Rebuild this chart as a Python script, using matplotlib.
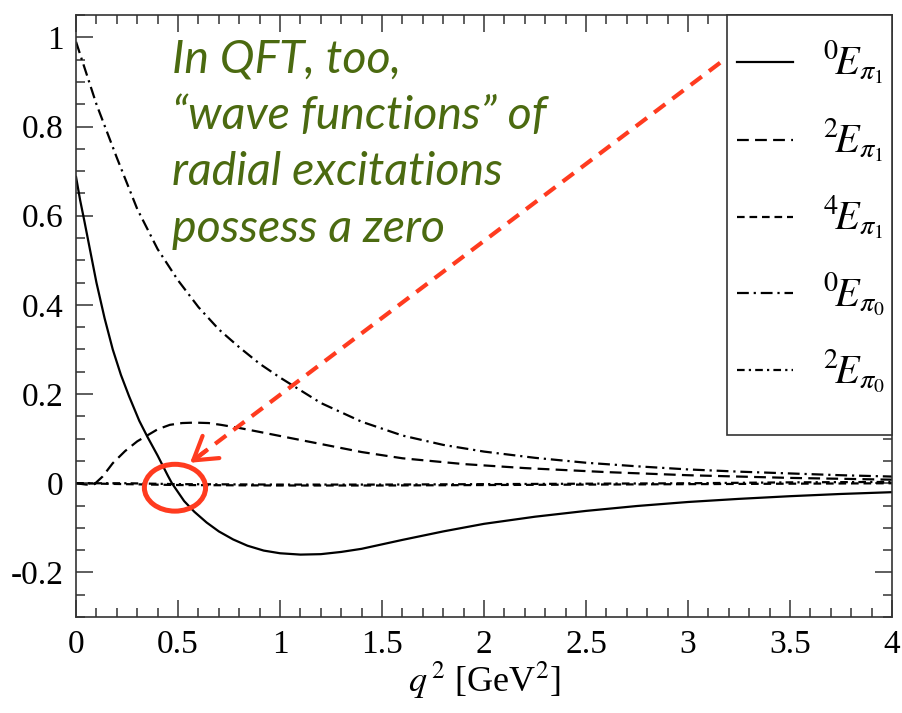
import matplotlib
matplotlib.use("Agg")
import matplotlib.pyplot as plt
from matplotlib.patches import Ellipse, Rectangle
from matplotlib.lines import Line2D
from matplotlib.ticker import MultipleLocator

plt.rcParams['font.family'] = ['Liberation Serif', 'DejaVu Serif']
plt.rcParams['mathtext.fontset'] = 'stix'
plt.rcParams['axes.unicode_minus'] = False
plt.rcParams['lines.scale_dashes'] = False

# ---- curves: q^2 [GeV^2] and form-factor values ----
q_e0_pi1 = [0, 0.02, 0.04, 0.07, 0.1, 0.14, 0.18, 0.22, 0.26, 0.31, 0.35, 0.4, 0.45,
            0.47, 0.53, 0.58, 0.64, 0.7, 0.77, 0.84, 0.92, 1.0, 1.1, 1.2, 1.3, 1.4,
            1.5, 1.6, 1.8, 2.0, 2.25, 2.5, 2.75, 3.0, 3.25, 3.5, 3.75, 4.0]
e0_pi1 = [0.687, 0.635, 0.590, 0.52, 0.45, 0.37, 0.30, 0.243, 0.195, 0.140, 0.104,
          0.062, 0.017, 0.0, -0.040, -0.064, -0.088, -0.108, -0.126, -0.140, -0.151,
          -0.157, -0.160, -0.159, -0.154, -0.147, -0.137, -0.127, -0.108, -0.091,
          -0.075, -0.062, -0.051, -0.042, -0.035, -0.029, -0.024, -0.020]

q_e2_pi1 = [0, 0.05, 0.09, 0.13, 0.18, 0.24, 0.3, 0.4, 0.46, 0.52, 0.58, 0.65, 0.71,
            0.8, 0.89, 1.0, 1.1, 1.2, 1.3, 1.4, 1.6, 1.9, 2.2, 2.6, 3.0, 3.5, 4.0]
e2_pi1 = [0.0, -0.003, -0.002, 0.015, 0.045, 0.072, 0.094, 0.121, 0.131, 0.135, 0.136,
          0.135, 0.131, 0.124, 0.116, 0.106, 0.097, 0.088, 0.079, 0.070, 0.056, 0.043,
          0.034, 0.025, 0.018, 0.012, 0.008]

q_e4_pi1 = [0, 0.25, 0.5, 1.0, 1.5, 2.0, 2.5, 3.0, 3.5, 4.0]
e4_pi1 = [0.0, -0.002, -0.004, -0.005, -0.005, -0.004, -0.003, -0.002, -0.001, 0.0]

q_e0_pi0 = [0, 0.1, 0.2, 0.3, 0.4, 0.5, 0.6, 0.7, 0.8, 0.9, 1.0, 1.2, 1.4, 1.6, 1.8,
            2.0, 2.25, 2.5, 2.75, 3.0, 3.25, 3.5, 3.75, 4.0]
e0_pi0 = [0.99, 0.85, 0.73, 0.615, 0.525, 0.455, 0.395, 0.345, 0.305, 0.268, 0.237,
          0.180, 0.138, 0.107, 0.086, 0.071, 0.057, 0.046, 0.038, 0.031, 0.026,
          0.022, 0.018, 0.015]

q_e2_pi0 = [0, 0.25, 0.5, 1.0, 1.5, 2.0, 2.5, 3.0, 3.5, 4.0]
e2_pi0 = [0.0, 0.0, -0.002, -0.003, -0.003, -0.002, -0.001, 0.0, 0.002, 0.003]

series_labels = [r'${}^{\mathit{0}}\!E_{\pi_{\mathit{1}}}$',
                 r'${}^{\mathit{2}}\!E_{\pi_{\mathit{1}}}$',
                 r'${}^{\mathit{4}}\!E_{\pi_{\mathit{1}}}$',
                 r'${}^{\mathit{0}}\!E_{\pi_{\mathit{0}}}$',
                 r'${}^{\mathit{2}}\!E_{\pi_{\mathit{0}}}$']

x_ticks = [0, 0.5, 1, 1.5, 2, 2.5, 3, 3.5, 4]
x_tick_labels = ['0', '0.5', '1', '1.5', '2', '2.5', '3', '3.5', '4']
y_ticks = [-0.2, 0, 0.2, 0.4, 0.6, 0.8, 1.0]
y_tick_labels = ['-0.2', '0', '0.2', '0.4', '0.6', '0.8', '1']

note_lines = ['In QFT, too,', '\u201cwave functions\u201d of',
              'radial excitations', 'possess a zero']

# ---- figure ----
fig = plt.figure(figsize=(9.02, 7.13), dpi=100)
ax = fig.add_axes([0.0843, 0.1346, 0.9047, 0.8443])

lw = 1.6
styles = [
    dict(linestyle='-'),
    dict(dashes=(8.5, 4.5)),
    dict(dashes=(5.5, 3.5)),
    dict(dashes=(8.5, 3.5, 1.6, 3.5)),
    dict(dashes=(5.5, 3.0, 1.6, 3.0)),
]
data = [(q_e0_pi1, e0_pi1), (q_e2_pi1, e2_pi1), (q_e4_pi1, e4_pi1),
        (q_e0_pi0, e0_pi0), (q_e2_pi0, e2_pi0)]
lines = []
for (qq, vv), st, lab in zip(data, styles, series_labels):
    ln, = ax.plot(qq, vv, color='black', lw=lw, label=lab,
                  dash_capstyle='butt', **st)
    lines.append(ln)

ax.set_xlim(0, 4)
ax.set_ylim(-0.3, 1.05)
ax.set_xticks(x_ticks)
ax.set_xticklabels(x_tick_labels)
ax.set_yticks(y_ticks)
ax.set_yticklabels(y_tick_labels)
ax.xaxis.set_minor_locator(MultipleLocator(0.1))
ax.yaxis.set_minor_locator(MultipleLocator(0.05))
ax.tick_params(which='both', direction='in', top=True, right=True, width=1.1,
               color='#333333')
ax.tick_params(which='major', length=12.5, labelsize=24, pad=9)
ax.tick_params(which='minor', length=6.5)
for sp in ax.spines.values():
    sp.set_linewidth(1.2)
    sp.set_color('#333333')

ax.set_xlabel(r'$q^{\,2}$ [GeV$^{2}$]', fontsize=26, labelpad=0)

# ---- legend box drawn from the plotted lines ----
box_x0, box_y0 = 0.7978, 0.3023
ax.add_patch(Rectangle((box_x0, box_y0), 1 - box_x0, 1 - box_y0,
                       transform=ax.transAxes, facecolor='white',
                       edgecolor='#333333', lw=1.2, zorder=10, clip_on=False))
entry_y = [0.922, 0.792, 0.664, 0.538, 0.410]
for ln, yy in zip(lines, entry_y):
    h = Line2D([0, 1], [0, 1])
    h.update_from(ln)
    h.set_transform(ax.transAxes)
    h.set_data([0.810, 0.8787], [yy, yy])
    h.set_zorder(11)
    ax.add_line(h)
    ax.text(0.9154, yy, ln.get_label(), transform=ax.transAxes, fontsize=29,
            va='center', ha='left', zorder=12)

# ---- annotation ----
green = '#4b6a10'
for i, t in enumerate(note_lines):
    ax.text(0.47, 0.922 - i * 0.127, t, fontsize=33.5, family='Lato',
            style='italic', color=green, va='baseline', ha='left', zorder=6)

red = '#ff3b1f'
start = (3.157, 0.943)
tip = (0.559, 0.046)
ax.plot([start[0], tip[0]], [start[1], tip[1]], color=red, lw=3.0,
        dashes=(10, 6.5), dash_capstyle='butt', zorder=7)
dx, dy = start[0] - tip[0], start[1] - tip[1]
ax.annotate('', xy=tip, xytext=(tip[0] + 0.03 * dx, tip[1] + 0.03 * dy),
            arrowprops=dict(arrowstyle='->,head_length=0.8,head_width=0.5',
                            color=red, lw=3.0, mutation_scale=20,
                            shrinkA=0, shrinkB=0),
            zorder=7)
ax.add_patch(Ellipse((0.485, -0.01), 0.30, 0.105, fill=False,
                     edgecolor=red, lw=3.6, zorder=7))

fig.savefig('out.png', dpi=100)
